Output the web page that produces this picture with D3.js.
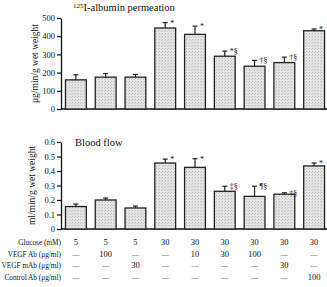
<!DOCTYPE html>
<html lang="en">
<head>
  <meta charset="UTF-8">
  <title>Albumin permeation and blood flow</title>
  <style>
    body {
      margin: 0;
      background: #fff;
    }
    svg text {
      font-family: "Liberation Serif", "Times New Roman", serif;
      fill: #111;
    }
  </style>
</head>
<body>
  <svg id="chart" width="327" height="287"></svg>
  <script src="https://d3js.org/d3.v7.min.js"></script>
  <script>
    // one entry per bar (9 groups)
    const groups = ['g1', 'g2', 'g3', 'g4', 'g5', 'g6', 'g7', 'g8', 'g9'];

    const albumin = [160, 175, 175, 445, 410, 290, 235, 255, 430];
    const albuminErr = [28, 20, 15, 30, 45, 28, 32, 30, 10];
    const albuminMarks = ['', '', '', '*', '*', '*§', '†§', '†§', '*'];

    const flow = [0.155, 0.2, 0.145, 0.455, 0.425, 0.26, 0.225, 0.24, 0.435];
    const flowErr = [0.017, 0.013, 0.013, 0.027, 0.06, 0.035, 0.07, 0.01, 0.02];
    const flowMarks = ['', '', '', '*', '*', '‡§', '¶§', '†§', '*'];

    const rowLabels = ['Glucose (mM)', 'VEGF Ab (μg/ml)', 'VEGF mAb (μg/ml)', 'Control Ab (μg/ml)'];
    const glucose = ['5', '5', '5', '30', '30', '30', '30', '30', '30'];
    const vegfAb = ['—', '100', '—', '—', '10', '30', '100', '—', '—'];
    const vegfMab = ['—', '—', '30', '—', '—', '—', '—', '30', '—'];
    const controlAb = ['—', '—', '—', '—', '—', '—', '—', '—', '100'];

    const svg = d3.select('#chart');

    // light stipple like the scanned bars
    const defs = svg.append('defs');
    const pat = defs.append('pattern')
      .attr('id', 'stipple')
      .attr('width', 3).attr('height', 3)
      .attr('patternUnits', 'userSpaceOnUse');
    pat.append('rect').attr('width', 3).attr('height', 3).attr('fill', '#e4e4e4');
    pat.append('rect').attr('x', 0).attr('y', 0).attr('width', 1).attr('height', 1).attr('fill', '#bcbcbc');
    pat.append('rect').attr('x', 2).attr('y', 1).attr('width', 1).attr('height', 1).attr('fill', '#c8c8c8');

    const x = d3.scaleBand()
      .domain(groups)
      .range([61, 329])
      .paddingInner(0.3)
      .paddingOuter(0.15);

    function panel(opts) {
      const y = d3.scaleLinear().domain(opts.domain).range([opts.bottom, opts.top]);
      const g = svg.append('g');

      const axis = d3.axisLeft(y)
        .tickValues(opts.ticks)
        .tickSize(4)
        .tickSizeOuter(0)
        .tickFormat(opts.format);
      const ax = g.append('g')
        .attr('transform', 'translate(61,0)')
        .call(axis);
      ax.select('.domain').attr('stroke', '#111').attr('stroke-width', 1.3);
      ax.selectAll('.tick line').attr('stroke', '#111').attr('stroke-width', 1.2);
      ax.selectAll('.tick text')
        .attr('x', -6)
        .style('font-family', '"Liberation Serif", serif')
        .style('font-size', '8.5px')
        .attr('fill', '#222');

      // baseline
      g.append('line')
        .attr('x1', 61).attr('x2', 327)
        .attr('y1', y(0)).attr('y2', y(0))
        .attr('stroke', '#111').attr('stroke-width', 1.3);

      g.selectAll('rect.bar')
        .data(opts.values)
        .enter().append('rect')
          .attr('class', 'bar')
          .attr('x', (d, i) => x(groups[i]))
          .attr('y', d => y(d))
          .attr('width', x.bandwidth())
          .attr('height', d => y(0) - y(d))
          .attr('fill', 'url(#stipple)')
          .attr('stroke', '#222')
          .attr('stroke-width', 1.3);

      const err = g.selectAll('g.err')
        .data(opts.values)
        .enter().append('g')
          .attr('class', 'err');
      err.append('line')
        .attr('x1', (d, i) => x(groups[i]) + x.bandwidth() / 2)
        .attr('x2', (d, i) => x(groups[i]) + x.bandwidth() / 2)
        .attr('y1', d => y(d))
        .attr('y2', (d, i) => y(d + opts.errors[i]))
        .attr('stroke', '#222').attr('stroke-width', 1.2);
      err.append('line')
        .attr('x1', (d, i) => x(groups[i]) + x.bandwidth() / 2 - 2.5)
        .attr('x2', (d, i) => x(groups[i]) + x.bandwidth() / 2 + 2.5)
        .attr('y1', (d, i) => y(d + opts.errors[i]))
        .attr('y2', (d, i) => y(d + opts.errors[i]))
        .attr('stroke', '#222').attr('stroke-width', 1.2);

      g.selectAll('text.mark')
        .data(opts.marks)
        .enter().append('text')
          .attr('class', 'mark')
          .attr('x', (d, i) => x(groups[i]) + x.bandwidth() / 2 + 5)
          .attr('y', (d, i) => y(opts.values[i] + opts.errors[i]) + 3)
          .style('font-size', '8px')
          .text(d => d);

      // rotated unit label
      g.append('text')
        .attr('transform', `translate(${opts.labelX},${(opts.top + opts.bottom) / 2}) rotate(-90)`)
        .attr('text-anchor', 'middle')
        .style('font-size', '9.5px')
        .text(opts.label);

      return g;
    }

    panel({
      domain: [0, 500], top: 18, bottom: 109,
      ticks: [0, 100, 200, 300, 400, 500], format: d3.format('d'),
      values: albumin, errors: albuminErr, marks: albuminMarks,
      label: 'μg/min/g wet weight', labelX: 38
    });

    panel({
      domain: [0, 0.6], top: 142, bottom: 229,
      ticks: [0, 0.1, 0.2, 0.3, 0.4, 0.5, 0.6], format: d => d === 0 ? '0' : d3.format('.1f')(d),
      values: flow, errors: flowErr, marks: flowMarks,
      label: 'ml/min/g wet weight', labelX: 35
    });

    // panel titles
    const t1 = svg.append('text')
      .attr('x', 73).attr('y', 11)
      .style('font-size', '10.5px');
    t1.append('tspan').attr('font-size', '7px').attr('dy', '-3').text('125');
    t1.append('tspan').attr('dy', '3').text('I-albumin permeation');

    svg.append('text')
      .attr('x', 75).attr('y', 146)
      .style('font-size', '10.5px')
      .text('Blood flow');

    // treatment table
    const rows = [glucose, vegfAb, vegfMab, controlAb];
    const rowY = [245, 256.5, 268, 280];
    rows.forEach((vals, r) => {
      svg.append('text')
        .attr('x', 61).attr('y', rowY[r])
        .attr('text-anchor', 'end')
        .style('font-size', '7.3px')
        .text(rowLabels[r]);
      svg.selectAll(null)
        .data(vals)
        .enter().append('text')
          .attr('x', (d, i) => x(groups[i]) + x.bandwidth() / 2)
          .attr('y', rowY[r])
          .attr('text-anchor', 'middle')
          .style('font-size', d => d === '—' ? '7px' : '8.5px')
          .text(d => d);
    });
  </script>
</body>
</html>
